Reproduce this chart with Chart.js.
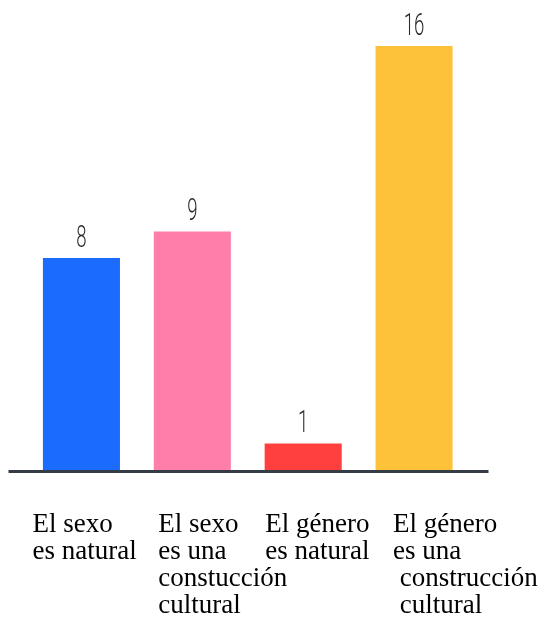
<!DOCTYPE html>
<html lang="es">
<head>
<meta charset="UTF-8">
<title>Sexo y género</title>
<script src="https://cdn.jsdelivr.net/npm/chart.js"></script>
<style>
  html, body { margin: 0; background: #fff; }
  .wrap { width: 541px; height: 631px; }
</style>
</head>
<body>
<div class="wrap"><canvas id="chart"></canvas></div>
<script>
// data
const categories = [
  ['El sexo', 'es natural'],
  ['El sexo', 'es una', 'constucción', 'cultural'],
  ['El género', 'es natural'],
  ['El género', 'es una', ' construcción', ' cultural']
];
const counts = [8, 9, 1, 16];

// styles
const barColors = ['#1b6bff', '#ff7eaa', '#ff403e', '#fdc13a'];
const labelShift = [-49, -34, -38, -21]; // where each category's text starts, from the bar centre

// baseline, value labels and the left-aligned category text
const decorations = {
  id: 'decorations',
  afterDatasetsDraw(chart) {
    const { ctx, chartArea: a } = chart;
    const xs = chart.scales.x;
    ctx.save();

    ctx.strokeStyle = '#363c45';
    ctx.lineWidth = 3;
    ctx.beginPath();
    ctx.moveTo(a.left - 17.5, a.bottom + 1.5);
    ctx.lineTo(a.right + 19, a.bottom + 1.5);
    ctx.stroke();

    // numbers above bars (narrow font look)
    ctx.fillStyle = '#2b2b2b';
    ctx.font = '300 31px Roboto';
    ctx.textAlign = 'center';
    ctx.textBaseline = 'alphabetic';
    chart.getDatasetMeta(0).data.forEach((bar, i) => {
      ctx.save();
      ctx.translate(bar.x, bar.y - 11.5);
      ctx.scale(0.6, 1);
      ctx.fillText(String(counts[i]), 0, 0);
      ctx.restore();
    });

    // category labels
    ctx.fillStyle = '#000';
    ctx.font = '27px "Liberation Serif"';
    ctx.textAlign = 'left';
    categories.forEach((lines, i) => {
      const x = xs.getPixelForValue(i) + labelShift[i];
      lines.forEach((line, j) => {
        ctx.fillText(line, x, a.bottom + 62 + j * 27);
      });
    });
    ctx.restore();
  }
};

new Chart(document.getElementById('chart'), {
  type: 'bar',
  data: {
    labels: categories,
    datasets: [{
      data: counts,
      backgroundColor: barColors,
      borderWidth: 0,
      categoryPercentage: 1,
      barPercentage: 0.695
    }]
  },
  options: {
    responsive: true,
    maintainAspectRatio: false,
    animation: false,
    layout: { padding: { top: 46, bottom: 161, left: 26, right: 71.5 } },
    scales: {
      x: { display: false },
      y: { display: false, min: 0, max: 16 }
    },
    plugins: { legend: { display: false }, tooltip: { enabled: false } }
  },
  plugins: [decorations]
});
</script>
</body>
</html>
